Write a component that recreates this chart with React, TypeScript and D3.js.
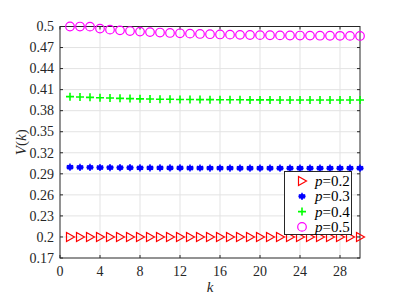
import React from 'react';
import * as d3 from 'd3';

const ks = d3.range(1, 31);
const p02 = ks.map(() => 0.2);
const p03 = [0.2995, 0.2993, 0.2992, 0.299, 0.2989, 0.2988, 0.2987, 0.2986, 0.2985, 0.2985,
  0.2984, 0.2984, 0.2983, 0.2983, 0.2982, 0.2982, 0.2982, 0.2981, 0.2981, 0.2981,
  0.2981, 0.298, 0.298, 0.298, 0.298, 0.298, 0.298, 0.298, 0.298, 0.298];
const p04 = [0.4, 0.3995, 0.399, 0.3985, 0.398, 0.3976, 0.3972, 0.3969, 0.3966, 0.3964,
  0.3962, 0.396, 0.3959, 0.3958, 0.3957, 0.3956, 0.3955, 0.3955, 0.3954, 0.3954,
  0.3954, 0.3953, 0.3953, 0.3953, 0.3953, 0.3953, 0.3952, 0.3952, 0.3952, 0.3952];
const p05 = [0.5, 0.4999, 0.4998, 0.497, 0.4955, 0.4945, 0.4935, 0.4927, 0.492, 0.4914,
  0.4908, 0.4903, 0.4898, 0.4894, 0.489, 0.4887, 0.4884, 0.4881, 0.4879, 0.4877,
  0.4875, 0.4873, 0.4872, 0.4871, 0.487, 0.4869, 0.4868, 0.4867, 0.4866, 0.4865];
const labels = ['0.2', '0.3', '0.4', '0.5'];
const yTicks = d3.range(0, 12).map(i => +(0.17 + i * 0.03).toFixed(2));
const xTicks = [0, 4, 8, 12, 16, 20, 24, 28];

const left = 60, right = 360, top = 26.5, bottom = 258;
const x = d3.scaleLinear().domain([0, 30]).range([left, right]);
const y = d3.scaleLinear().domain([0.17, 0.5]).range([bottom, top]);
const font = 'Liberation Serif';
const ink = '#262626';

const Tri = ({ cx, cy }: { cx: number; cy: number }) => (
  <path d={`M${cx - 3.5},${cy - 4.5} L${cx + 4.5},${cy} L${cx - 3.5},${cy + 4.5} Z`}
    fill="none" stroke="#ff0000" strokeWidth={1.2} />
);
const Star = ({ cx, cy }: { cx: number; cy: number }) => {
  const r = 3.6;
  const d = [0, 60, 120].map(a => {
    const t = (a * Math.PI) / 180;
    return `M${cx - r * Math.sin(t)},${cy - r * Math.cos(t)} L${cx + r * Math.sin(t)},${cy + r * Math.cos(t)}`;
  }).join(' ') + ` M${cx - r},${cy} L${cx + r},${cy}`;
  return (
    <g>
      <path d={d} stroke="#0000ff" strokeWidth={1.4} fill="none" />
      <circle cx={cx} cy={cy} r={2.6} fill="#0000ff" />
    </g>
  );
};
const Plus = ({ cx, cy }: { cx: number; cy: number }) => (
  <path d={`M${cx - 4},${cy} L${cx + 4},${cy} M${cx},${cy - 4} L${cx},${cy + 4}`}
    stroke="#00ff00" strokeWidth={1.6} fill="none" />
);
const Circ = ({ cx, cy }: { cx: number; cy: number }) => (
  <circle cx={cx} cy={cy} r={4.3} fill="none" stroke="#ff00ff" strokeWidth={1.2} />
);

const series = [
  { vals: p02, Mark: Tri },
  { vals: p03, Mark: Star },
  { vals: p04, Mark: Plus },
  { vals: p05, Mark: Circ },
];

const App = () => (
  <svg width={393} height={298} style={{ position: 'absolute', left: 0, top: 0, background: '#fff' }}>
    {xTicks.slice(1).map(t => (
      <line key={'gx' + t} x1={x(t)} x2={x(t)} y1={top} y2={bottom} stroke="#e3e3e3" />
    ))}
    {yTicks.slice(1, -1).map(t => (
      <line key={'gy' + t} x1={left} x2={right} y1={y(t)} y2={y(t)} stroke="#e3e3e3" />
    ))}
    <rect x={left} y={top} width={right - left} height={bottom - top} fill="none" stroke={ink} />
    {yTicks.map(t => (
      <g key={'ty' + t}>
        <line x1={left} x2={left + 3} y1={y(t)} y2={y(t)} stroke={ink} />
        <line x1={right - 3} x2={right} y1={y(t)} y2={y(t)} stroke={ink} />
        <text x={left - 6} y={y(t)} dy="0.34em" textAnchor="end" fontFamily={font} fontSize={14} fill={ink}>
          {String(t)}
        </text>
      </g>
    ))}
    {xTicks.map(t => (
      <g key={'tx' + t}>
        <line x1={x(t)} x2={x(t)} y1={bottom} y2={bottom - 3} stroke={ink} />
        <line x1={x(t)} x2={x(t)} y1={top} y2={top + 3} stroke={ink} />
        <text x={x(t)} y={bottom + 18} textAnchor="middle" fontFamily={font} fontSize={14} fill={ink}>
          {String(t)}
        </text>
      </g>
    ))}
    <text x={210} y={292} textAnchor="middle" fontFamily={font} fontSize={15} fontStyle="italic" fill={ink}>k</text>
    <text transform={`translate(26,${(top + bottom) / 2}) rotate(-90)`} textAnchor="middle"
      fontFamily={font} fontSize={15} fill={ink}>
      <tspan fontStyle="italic">V</tspan>(<tspan fontStyle="italic">k</tspan>)
    </text>
    {series.map((s, si) => (
      <g key={'s' + si}>
        {s.vals.map((v, i) => <s.Mark key={i} cx={x(ks[i])} cy={y(v)} />)}
      </g>
    ))}
    <rect x={284.5} y={171.5} width={67} height={63} fill="#fff" stroke={ink} />
    {series.map((s, i) => {
      const cy = 181 + i * 15.3;
      return (
        <g key={'l' + i}>
          <s.Mark cx={302} cy={cy} />
          <text x={315} y={cy + 5} fontFamily={font} fontSize={15} fill="#000">
            <tspan fontStyle="italic">p</tspan>={labels[i]}
          </text>
        </g>
      );
    })}
  </svg>
);

export default App;
